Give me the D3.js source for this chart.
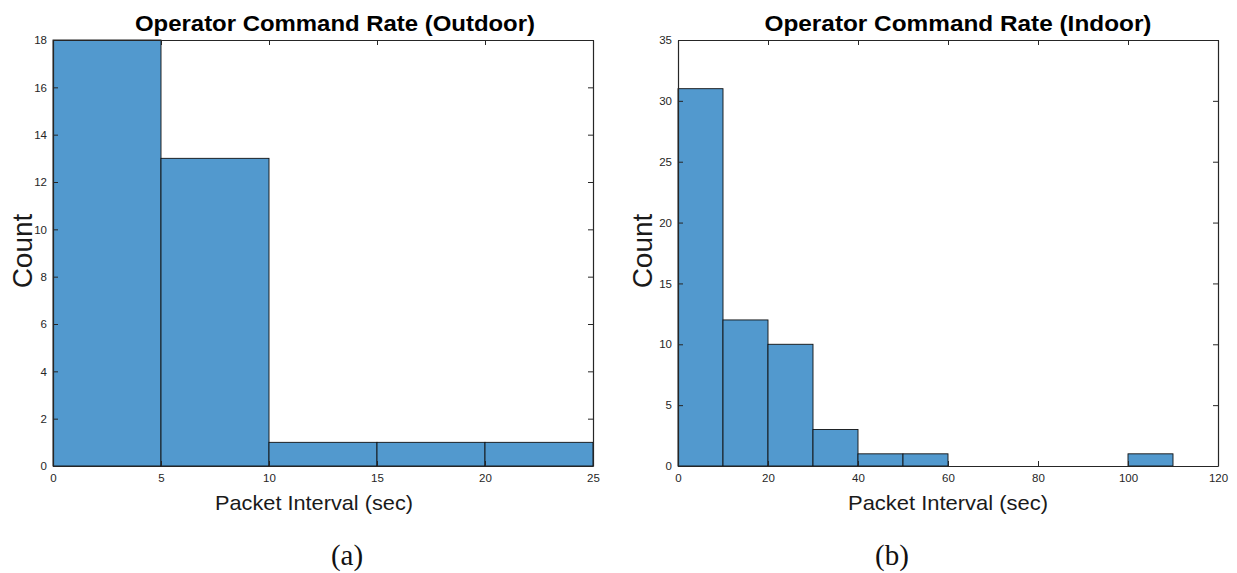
<!DOCTYPE html>
<html>
<head>
<meta charset="utf-8">
<script src="https://cdn.jsdelivr.net/npm/d3@7"></script>
<style>
  html, body { margin: 0; padding: 0; background: #fff; }
  svg { display: block; }
  text { font-family: "Liberation Sans", Arial, Helvetica, sans-serif; }
</style>
</head>
<body>
<svg id="chart" width="1237" height="573"></svg>
<script>
// ---- data ----
const outdoorEdges = [0, 5, 10, 15, 20, 25];
const outdoorCounts = [18, 13, 1, 1, 1];
const indoorEdges = [0, 10, 20, 30, 40, 50, 60, 70, 80, 90, 100, 110];
const indoorCounts = [31, 12, 10, 3, 1, 1, 0, 0, 0, 0, 1];
const outdoorXTicks = [0, 5, 10, 15, 20, 25];
const outdoorYTicks = [0, 2, 4, 6, 8, 10, 12, 14, 16, 18];
const indoorXTicks = [0, 20, 40, 60, 80, 100, 120];
const indoorYTicks = [0, 5, 10, 15, 20, 25, 30, 35];
const titles = ["Operator Command Rate (Outdoor)", "Operator Command Rate (Indoor)"];
const xLabel = "Packet Interval (sec)";
const yLabel = "Count";
const captions = ["(a)", "(b)"];

const svg = d3.select("#chart");
const barFill = "#5299CE";
const axisColor = "#262626";

function panel(cfg) {
  const {left, right, top, bottom, xDomain, yDomain, edges, counts, xTicks, yTicks,
         title, titleX, titleLen, xLabelX, xLabelLen, yLabelX, caption, captionX} = cfg;
  const x = d3.scaleLinear().domain(xDomain).range([left, right]);
  const y = d3.scaleLinear().domain(yDomain).range([bottom, top]);
  const g = svg.append("g");

  const bins = counts.map((c, i) => ({x0: edges[i], x1: edges[i + 1], c}))
                     .filter(d => d.c > 0);
  g.selectAll("rect.bar").data(bins).enter().append("rect")
    .attr("class", "bar")
    .attr("x", d => x(d.x0))
    .attr("y", d => y(d.c))
    .attr("width", d => x(d.x1) - x(d.x0))
    .attr("height", d => y(0) - y(d.c))
    .attr("fill", barFill)
    .attr("stroke", "#111")
    .attr("stroke-width", 0.9);

  const styleAxis = sel => {
    sel.select(".domain").attr("stroke", axisColor).attr("stroke-width", 1.2);
    sel.selectAll(".tick line").attr("stroke", axisColor).attr("stroke-width", 1);
    sel.selectAll(".tick text").attr("fill", axisColor)
       .style("font-family", "'Liberation Sans', Arial, sans-serif").style("font-size", "11.5px");
  };

  // bottom
  g.append("g").attr("transform", `translate(0,${bottom})`)
    .call(d3.axisBottom(x).tickValues(xTicks).tickFormat(d3.format("d"))
      .tickSizeInner(-5).tickSizeOuter(0).tickPadding(8))
    .call(styleAxis);
  // top
  g.append("g").attr("transform", `translate(0,${top})`)
    .call(d3.axisTop(x).tickValues(xTicks).tickFormat("")
      .tickSizeInner(-5).tickSizeOuter(0))
    .call(styleAxis);
  // left
  g.append("g").attr("transform", `translate(${left},0)`)
    .call(d3.axisLeft(y).tickValues(yTicks).tickFormat(d3.format("d"))
      .tickSizeInner(-5).tickSizeOuter(0).tickPadding(6))
    .call(styleAxis);
  // right
  g.append("g").attr("transform", `translate(${right},0)`)
    .call(d3.axisRight(y).tickValues(yTicks).tickFormat("")
      .tickSizeInner(-5).tickSizeOuter(0))
    .call(styleAxis);

  // title
  g.append("text")
    .attr("x", titleX).attr("y", 31)
    .attr("text-anchor", "middle")
    .attr("font-weight", "bold")
    .attr("font-size", 22.5)
    .attr("textLength", titleLen).attr("lengthAdjust", "spacingAndGlyphs")
    .attr("fill", "#000")
    .text(title);

  // x label
  g.append("text")
    .attr("x", xLabelX).attr("y", 510)
    .attr("text-anchor", "middle")
    .attr("font-size", 21)
    .attr("textLength", xLabelLen).attr("lengthAdjust", "spacingAndGlyphs")
    .attr("fill", "#1a1a1a")
    .text(xLabel);

  // y label
  g.append("text")
    .attr("transform", `translate(${yLabelX},${(top + bottom) / 2 - 2}) rotate(-90)`)
    .attr("text-anchor", "middle")
    .attr("font-size", 28)
    .attr("fill", "#1a1a1a")
    .text(yLabel);

  // caption
  g.append("text")
    .attr("x", captionX).attr("y", 565)
    .attr("text-anchor", "middle")
    .style("font-family", "'Liberation Serif', 'DejaVu Serif', serif")
    .attr("font-size", 29)
    .attr("fill", "#111")
    .text(caption);
}

panel({left: 53, right: 593, top: 40, bottom: 466,
       xDomain: [0, 25], yDomain: [0, 18],
       edges: outdoorEdges, counts: outdoorCounts,
       xTicks: outdoorXTicks, yTicks: outdoorYTicks,
       title: titles[0], titleX: 335, titleLen: 400,
       xLabelX: 314, xLabelLen: 198, yLabelX: 32,
       caption: captions[0], captionX: 347});

panel({left: 678, right: 1218, top: 40, bottom: 466,
       xDomain: [0, 120], yDomain: [0, 35],
       edges: indoorEdges, counts: indoorCounts,
       xTicks: indoorXTicks, yTicks: indoorYTicks,
       title: titles[1], titleX: 958, titleLen: 387,
       xLabelX: 948, xLabelLen: 200, yLabelX: 652,
       caption: captions[1], captionX: 892});
</script>
</body>
</html>
